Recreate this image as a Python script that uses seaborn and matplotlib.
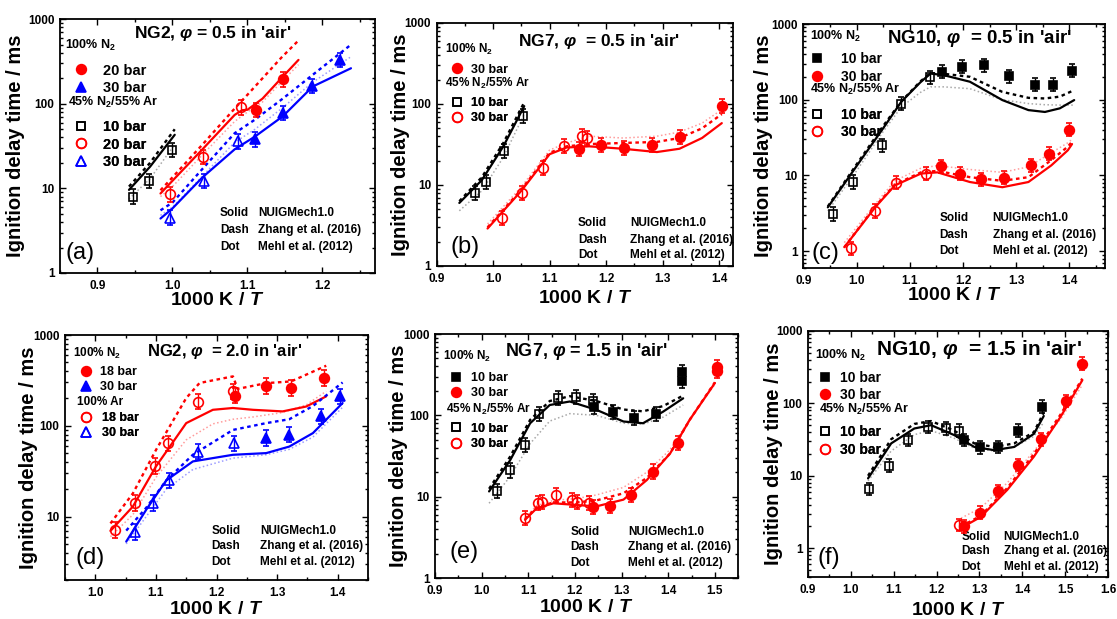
import numpy as np
import matplotlib
matplotlib.use("Agg")
import matplotlib.pyplot as plt
import seaborn as sns
from matplotlib.ticker import MultipleLocator, FixedLocator, FuncFormatter, LogLocator, NullFormatter, FormatStrFormatter
from matplotlib.lines import Line2D

# ---------------- DATA ----------------
# Panel (a) NG2, phi = 0.5
a_n2_20_x = [1.111, 1.147]
a_n2_20_y = [84, 195]
a_n2_30_x = [1.110, 1.147, 1.186, 1.223]
a_n2_30_y = [38, 78, 163, 330]
a_ar_10_x = [0.948, 0.969, 1.000]
a_ar_10_y = [8.0, 12.2, 28.3]
a_ar_20_x = [0.997, 1.041, 1.091]
a_ar_20_y = [8.5, 23.6, 91]
a_ar_30_x = [0.997, 1.042, 1.087]
a_ar_30_y = [4.5, 12.2, 36]
a_k_x = [0.942, 0.970, 1.003]
a_k_solid = [9.6, 18, 43]
a_k_dash = [10.5, 20, 50]
a_k_dot = [7.5, 13, 33]
a_r_x = [0.984, 1.000, 1.040, 1.083, 1.093, 1.100, 1.120, 1.145, 1.168]
a_r_solid = [8.7, 12.3, 29, 74, 84, 85, 115, 200, 330]
a_r_dash = [9.5, 13.5, 33, 88, 110, 128, 200, 350, 560]
a_r_dot = [8.0, 10.5, 25, 62, 72, 80, 105, 180, 290]
a_b_x = [0.984, 1.000, 1.040, 1.083, 1.110, 1.147, 1.187, 1.238]
a_b_solid = [4.4, 5.8, 13.5, 29, 41, 71, 160, 263]
a_b_dash = [5.5, 6.8, 17, 45, 65, 115, 220, 500]
a_b_dot = [4.8, 6.0, 14, 35, 50, 90, 180, 360]

# Panel (b) NG7, phi = 0.5
b_n2_30_x = [1.152, 1.191, 1.232, 1.281, 1.331, 1.406]
b_n2_30_y = [28, 31, 29, 31, 39, 94]
b_ar_10_x = [0.968, 0.987, 1.019, 1.053]
b_ar_10_y = [8.0, 10.9, 26, 72]
b_ar_30_x = [1.016, 1.051, 1.089, 1.125, 1.157, 1.167]
b_ar_30_y = [3.9, 8.0, 16.3, 30, 40, 38]
b_k_x = [0.940, 0.980, 1.018, 1.055]
b_k_solid = [6.0, 11.5, 30, 94]
b_k_dash = [6.3, 12.5, 33, 105]
b_k_dot = [4.8, 8.5, 22, 75]
b_r_x = [0.990, 1.050, 1.100, 1.130, 1.170, 1.230, 1.290, 1.330, 1.370, 1.405]
b_r_solid = [2.9, 8.5, 24, 29, 30, 28, 25.5, 28, 38, 58]
b_r_dash = [3.0, 8.8, 25, 30, 32, 33, 34, 38, 50, 75]
b_r_dot = [3.3, 9.5, 27, 33, 40, 38, 40, 45, 58, 85]

# Panel (c) NG10, phi = 0.5
c_n2_10_x = [1.161, 1.198, 1.240, 1.287, 1.336, 1.369, 1.405]
c_n2_10_y = [234, 272, 285, 205, 159, 159, 241]
c_n2_30_x = [1.158, 1.194, 1.234, 1.277, 1.328, 1.361, 1.400]
c_n2_30_y = [13.3, 10.6, 8.9, 9.4, 13.6, 19.4, 40]
c_ar_10_x = [0.955, 0.994, 1.048, 1.084, 1.138]
c_ar_10_y = [3.1, 8.2, 25, 89, 197]
c_ar_30_x = [0.990, 1.035, 1.075, 1.130]
c_ar_30_y = [1.1, 3.4, 8.0, 10.6]
c_k_x = [0.946, 1.000, 1.050, 1.084, 1.120, 1.139, 1.164, 1.213, 1.274, 1.323, 1.354, 1.382, 1.409]
c_k_solid = [3.8, 13.3, 42, 94, 170, 222, 211, 173, 99, 73, 69, 77, 99]
c_k_dash = [3.9, 14, 45, 95, 175, 225, 220, 201, 127, 106, 104, 110, 134]
c_k_dot = [3.4, 11.5, 38, 80, 125, 148, 148, 140, 100, 89, 86, 85, 85]
c_r_x = [0.977, 1.035, 1.072, 1.121, 1.152, 1.213, 1.274, 1.323, 1.366, 1.397, 1.405]
c_r_solid = [1.13, 3.8, 7.4, 10.6, 11, 8.2, 7.0, 8.2, 13.6, 21.5, 26]
c_r_dash = [1.13, 3.9, 7.6, 11, 11.5, 9.5, 8.5, 9.5, 16, 24, 28]
c_r_dot = [1.3, 4.2, 8.5, 12.5, 13.5, 12, 11, 13, 20, 27, 30]

# Panel (d) NG2, phi = 2.0
d_n2_18_x = [1.231, 1.282, 1.323, 1.378]
d_n2_18_y = [215, 276, 260, 336]
d_n2_30_x = [1.282, 1.320, 1.373, 1.403]
d_n2_30_y = [73, 80, 127, 211]
d_ar_18_x = [1.032, 1.065, 1.099, 1.120, 1.169, 1.227]
d_ar_18_y = [7.1, 14, 36, 64, 185, 239]
d_ar_30_x = [1.066, 1.096, 1.121, 1.170, 1.229]
d_ar_30_y = [6.8, 14, 25, 52, 64]
d_r_x = [1.025, 1.062, 1.100, 1.150, 1.194, 1.227, 1.260, 1.309, 1.348, 1.381]
d_r_solid = [6.95, 12.9, 35.6, 107, 150, 157, 150, 144, 163, 211]
d_r_dot = [6.0, 10.5, 27, 70, 105, 118, 125, 140, 170, 240]
d_r_dash_x = [1.025, 1.062, 1.100, 1.150, 1.172, 1.227, 1.235, 1.282, 1.323, 1.381]
d_r_dash = [8.4, 18, 54, 202, 296, 350, 255, 295, 308, 459]
d_b_x = [1.051, 1.084, 1.117, 1.161, 1.227, 1.282, 1.320, 1.359, 1.408]
d_b_solid = [5.3, 11.9, 25, 40.5, 47.9, 50, 59, 83, 178]
d_b_dash = [7.0, 12.5, 25, 48, 90, 107, 118, 165, 300]
d_b_dot = [5.0, 10, 20, 33, 44, 48, 55, 75, 160]

# Panel (e) NG7, phi = 1.5
e_n2_10_x = [1.241, 1.281, 1.327, 1.373, 1.429, 1.429]
e_n2_10_y = [128, 111, 92, 104, 265, 344]
e_n2_30_x = [1.238, 1.276, 1.321, 1.368, 1.421, 1.504, 1.504]
e_n2_30_y = [7.4, 7.7, 10.5, 20.4, 46, 355, 390]
e_ar_10_x = [1.032, 1.061, 1.094, 1.124, 1.164, 1.202, 1.239]
e_ar_10_y = [11.6, 21, 43, 104, 162, 170, 152]
e_ar_30_x = [1.093, 1.121, 1.129, 1.159, 1.193, 1.204, 1.230]
e_ar_30_y = [5.45, 8.3, 8.7, 10.5, 9.0, 8.7, 8.3]
e_k_x = [1.016, 1.061, 1.104, 1.146, 1.189, 1.246, 1.304, 1.346, 1.389, 1.432]
e_k_solid = [11.6, 28, 80, 134, 148, 117, 84, 80, 111, 162]
e_k_dash = [12.5, 31, 88, 150, 172, 150, 118, 112, 130, 175]
e_k_dot = [8.3, 17.7, 45, 85, 105, 100, 80, 78, 95, 134]
e_r_x = [1.093, 1.118, 1.154, 1.204, 1.246, 1.304, 1.354, 1.404, 1.446, 1.500]
e_r_solid = [5.2, 7.2, 8.3, 7.9, 7.6, 9.2, 16, 34, 88, 250]
e_r_dash = [5.3, 7.4, 8.5, 8.5, 9.0, 11, 17, 34, 88, 255]
e_r_dot = [5.5, 7.8, 9.0, 9.5, 10.5, 13, 20, 38, 90, 240]

# Panel (f) NG10, phi = 1.5
f_n2_10_x = [1.263, 1.302, 1.344, 1.391, 1.445]
f_n2_10_y = [31, 24.7, 25, 42, 90]
f_n2_30_x = [1.264, 1.302, 1.343, 1.390, 1.443, 1.501, 1.540]
f_n2_30_y = [2.0, 3.1, 6.2, 14.1, 31.8, 108, 355]
f_ar_10_x = [1.043, 1.088, 1.133, 1.179, 1.222, 1.253]
f_ar_10_y = [6.6, 13.8, 31, 47, 45, 42]
f_ar_30_x = [1.253]
f_ar_30_y = [2.1]
f_k_x = [1.040, 1.094, 1.148, 1.187, 1.241, 1.288, 1.334, 1.381, 1.427, 1.450]
f_k_solid = [9.2, 28, 45, 50, 36.5, 25, 22.6, 25, 38, 67]
f_k_dash = [10, 32, 52, 57, 42, 28, 25, 28, 40, 75]
f_k_dot = [8.5, 22, 37, 42, 33, 24, 22, 25, 35, 55]
f_r_x = [1.257, 1.303, 1.365, 1.427, 1.489, 1.540]
f_r_solid = [1.9, 2.7, 6.4, 18.4, 65, 209]
f_r_dash = [2.0, 2.8, 6.8, 20, 70, 220]
f_r_dot = [2.6, 3.6, 8, 22, 60, 180]

ERR = 0.22  # relative experimental uncertainty

TITLES = ["NG2, $\\varphi$ = 0.5 in 'air'", "NG7, $\\varphi$  = 0.5 in 'air'",
          "NG10, $\\varphi$  = 0.5 in 'air'", "NG2, $\\varphi$  = 2.0 in 'air'",
          "NG7, $\\varphi$ = 1.5 in 'air'", "NG10, $\\varphi$  = 1.5 in 'air'"]
MODELS = [("Solid", "NUIGMech1.0"), ("Dash", "Zhang et al. (2016)"), ("Dot", "Mehl et al. (2012)")]

# ---------------- STYLE ----------------
sns.set_theme(style="ticks", rc={"axes.edgecolor": "black", "text.color": "black",
                                 "xtick.color": "black", "ytick.color": "black",
                                 "axes.labelcolor": "black"})
plt.rcParams["font.family"] = ["Liberation Sans", "DejaVu Sans"]
plt.rcParams["font.weight"] = "bold"
plt.rcParams["mathtext.fontset"] = "custom"
plt.rcParams["mathtext.rm"] = "Liberation Sans:bold"
plt.rcParams["mathtext.it"] = "Liberation Sans:italic:bold"
plt.rcParams["mathtext.bf"] = "Liberation Sans:bold"

RED, BLUE, BLACK = "#ff0000", "#0000ff", "#000000"
PALE = {RED: "#ff9c9c", BLUE: "#9c9cff", BLACK: "#a8a8a8"}
DASH = (0, (1.5, 1.5))
DOT = (0, (1.0, 1.6))

fig = plt.figure(figsize=(11.17, 6.19), dpi=100)


def curves(ax, x, solid, dash, dot, color, dash_x=None):
    sns.lineplot(x=x, y=solid, ax=ax, color=color, lw=1.6, errorbar=None,
                 estimator=None, sort=False, zorder=3)
    sns.lineplot(x=dash_x if dash_x is not None else x, y=dash, ax=ax, color=color,
                 lw=1.7, linestyle=DASH, errorbar=None, estimator=None, sort=False, zorder=3)
    sns.lineplot(x=x, y=dot, ax=ax, color=PALE[color], lw=1.1, linestyle=DOT,
                 errorbar=None, estimator=None, sort=False, zorder=2)


def points(ax, x, y, marker, color, filled, ms):
    y = np.asarray(y, dtype=float)
    lo = y - y / (1 + ERR)
    hi = y * ERR
    ax.errorbar(x, y, yerr=[lo, hi], fmt=marker, color=color,
                mfc=color if filled else "none", mec=color, ms=ms, mew=1.2,
                elinewidth=1.0, capsize=2.2, capthick=1.0, zorder=5)


def key(ax, entries, x, y, pad, fs=9):
    handles = [Line2D([], [], ls="none", marker=m, color=c, mfc=c if f else "none",
                      mec=c, ms=s, mew=1.2) for (m, c, f, s, _) in entries]
    labels = [e[4] for e in entries]
    leg = ax.legend(handles, labels, loc="upper left", bbox_to_anchor=(x, y),
                    frameon=False, prop={"size": fs, "weight": "bold"},
                    handlelength=1.0, handletextpad=pad, borderpad=0,
                    borderaxespad=0, labelspacing=0.25)
    ax.add_artist(leg)


def setup(ax, xlim, ylim, title, tpos, tfs, label, lpos, mpos, ylab_x, xlab_y):
    ax.set_yscale("log")
    ax.set_xlim(*xlim)
    ax.set_ylim(*ylim)
    ax.xaxis.set_major_locator(MultipleLocator(0.1))
    ax.xaxis.set_minor_locator(MultipleLocator(0.05))
    ax.xaxis.set_major_formatter(FormatStrFormatter("%.1f"))
    ax.yaxis.set_major_locator(FixedLocator([1, 10, 100, 1000]))
    ax.yaxis.set_major_formatter(FuncFormatter(lambda v, p: f"{v:g}"))
    ax.yaxis.set_minor_locator(LogLocator(base=10, subs=np.arange(2, 10)))
    ax.yaxis.set_minor_formatter(NullFormatter())
    ax.tick_params(which="both", direction="in", top=True, right=True, width=1.0,
                   labelsize=8.5)
    ax.tick_params(axis="x", which="major", pad=5)
    ax.tick_params(axis="y", which="major", pad=4)
    ax.tick_params(which="major", length=4)
    ax.tick_params(which="minor", length=2.2)
    for sp in ax.spines.values():
        sp.set_linewidth(1.3)
    for t in ax.get_xticklabels() + ax.get_yticklabels():
        t.set_fontweight("bold")
    ax.set_xlabel("1000 K / $\\mathit{T}$", fontsize=14, fontweight="bold")
    ax.set_ylabel("Ignition delay time / ms", fontsize=14.5, fontweight="bold")
    ax.yaxis.set_label_coords(ylab_x, 0.5)
    ax.xaxis.set_label_coords(0.5, xlab_y)
    ax.text(tpos[0], tpos[1], title, transform=ax.transAxes, ha="center", va="center",
            fontsize=tfs, fontweight="bold")
    ax.text(lpos[0], lpos[1], label, transform=ax.transAxes, ha="left", va="center",
            fontsize=17, fontweight="normal")
    x1, x2, ys = mpos
    for (a, b), yy in zip(MODELS, ys):
        ax.text(x1, yy, a, transform=ax.transAxes, ha="left", va="center", fontsize=8.5)
        ax.text(x2, yy, b, transform=ax.transAxes, ha="left", va="center", fontsize=8.5)


def header(ax, x, y, s, fs=8.5):
    ax.text(x, y, s, transform=ax.transAxes, ha="left", va="center", fontsize=fs,
            fontweight="bold")


N2 = "100% N$_2$"
MIX = "45% N$_2$/55% Ar"

# ---------------- (a) ----------------
ax = fig.add_axes([0.0537, 0.559, 0.282, 0.410])
curves(ax, a_k_x, a_k_solid, a_k_dash, a_k_dot, BLACK)
curves(ax, a_r_x, a_r_solid, a_r_dash, a_r_dot, RED)
curves(ax, a_b_x, a_b_solid, a_b_dash, a_b_dot, BLUE)
points(ax, a_ar_10_x, a_ar_10_y, "s", BLACK, False, 6)
points(ax, a_ar_20_x, a_ar_20_y, "o", RED, False, 7)
points(ax, a_ar_30_x, a_ar_30_y, "^", BLUE, False, 7.5)
points(ax, a_n2_20_x, a_n2_20_y, "o", RED, True, 7)
points(ax, a_n2_30_x, a_n2_30_y, "^", BLUE, True, 7.5)
setup(ax, (0.85, 1.27), (1, 1000), TITLES[0], (0.483, 0.945), 12.5, "(a)", (0.016, 0.079),
      (0.508, 0.629, (0.236, 0.169, 0.102)), -0.111, -0.075)
header(ax, 0.016, 0.898, N2, 9)
key(ax, [("o", RED, True, 7, "20 bar"), ("^", BLUE, True, 7.5, "30 bar")], 0.043, 0.825, 1.0, 10.5)
header(ax, 0.026, 0.673, MIX, 9)
key(ax, [("s", BLACK, False, 6, "10 bar"), ("o", RED, False, 7, "20 bar"),
         ("^", BLUE, False, 7.5, "30 bar")], 0.043, 0.603, 1.0, 10.5)

# ---------------- (b) ----------------
ax = fig.add_axes([0.391, 0.5703, 0.2653, 0.3926])
curves(ax, b_k_x, b_k_solid, b_k_dash, b_k_dot, BLACK)
curves(ax, b_r_x, b_r_solid, b_r_dash, b_r_dot, RED)
points(ax, b_ar_10_x, b_ar_10_y, "s", BLACK, False, 6)
points(ax, b_ar_30_x, b_ar_30_y, "o", RED, False, 7)
points(ax, b_n2_30_x, b_n2_30_y, "o", RED, True, 7)
setup(ax, (0.9, 1.425), (1, 1000), TITLES[1], (0.549, 0.923), 12.5, "(b)", (0.045, 0.079),
      (0.477, 0.652, (0.176, 0.107, 0.045)), -0.09, -0.099)
header(ax, 0.028, 0.889, N2)
key(ax, [("o", RED, True, 7, "30 bar")], 0.048, 0.832, 0.6)
header(ax, 0.028, 0.752, MIX)
key(ax, [("s", BLACK, False, 6, "10 bar"), ("o", RED, False, 7, "30 bar")], 0.048, 0.694, 0.6)

# ---------------- (c) ----------------
ax = fig.add_axes([0.7192, 0.567, 0.2701, 0.3942])
curves(ax, c_k_x, c_k_solid, c_k_dash, c_k_dot, BLACK)
curves(ax, c_r_x, c_r_solid, c_r_dash, c_r_dot, RED)
points(ax, c_ar_10_x, c_ar_10_y, "s", BLACK, False, 6)
points(ax, c_ar_30_x, c_ar_30_y, "o", RED, False, 7)
points(ax, c_n2_10_x, c_n2_10_y, "s", BLACK, True, 6)
points(ax, c_n2_30_x, c_n2_30_y, "o", RED, True, 7)
setup(ax, (0.9, 1.467), (0.6, 1000), TITLES[2], (0.583, 0.941), 13.5, "(c)", (0.028, 0.06),
      (0.451, 0.627, (0.204, 0.135, 0.071)), -0.1, -0.078)
header(ax, 0.022, 0.949, N2, 9)
key(ax, [("s", BLACK, True, 6, "10 bar"), ("o", RED, True, 7, "30 bar")], 0.023, 0.885, 1.2, 10)
header(ax, 0.022, 0.732, MIX, 9)
key(ax, [("s", BLACK, False, 6, "10 bar"), ("o", RED, False, 7, "30 bar")], 0.023, 0.657, 1.2, 10)

# ---------------- (d) ----------------
ax = fig.add_axes([0.0582, 0.063, 0.2713, 0.3958])
curves(ax, d_r_x, d_r_solid, d_r_dash, d_r_dot, RED, dash_x=d_r_dash_x)
curves(ax, d_b_x, d_b_solid, d_b_dash, d_b_dot, BLUE)
points(ax, d_ar_18_x, d_ar_18_y, "o", RED, False, 7)
points(ax, d_ar_30_x, d_ar_30_y, "^", BLUE, False, 7.5)
points(ax, d_n2_18_x, d_n2_18_y, "o", RED, True, 7)
points(ax, d_n2_30_x, d_n2_30_y, "^", BLUE, True, 7.5)
setup(ax, (0.95, 1.45), (2, 1000), TITLES[3], (0.528, 0.932), 12, "(d)", (0.036, 0.089),
      (0.484, 0.644, (0.2, 0.139, 0.075)), -0.089, -0.084)
header(ax, 0.028, 0.925, N2)
key(ax, [("o", RED, True, 7, "18 bar"), ("^", BLUE, True, 7.5, "30 bar")], 0.048, 0.872, 0.65)
header(ax, 0.041, 0.728, "100% Ar")
key(ax, [("o", RED, False, 7, "18 bar"), ("^", BLUE, False, 7.5, "30 bar")], 0.048, 0.686, 0.8)

# ---------------- (e) ----------------
ax = fig.add_axes([0.3894, 0.0662, 0.2715, 0.3942])
curves(ax, e_k_x, e_k_solid, e_k_dash, e_k_dot, BLACK)
curves(ax, e_r_x, e_r_solid, e_r_dash, e_r_dot, RED)
points(ax, e_ar_10_x, e_ar_10_y, "s", BLACK, False, 6)
points(ax, e_ar_30_x, e_ar_30_y, "o", RED, False, 7)
points(ax, e_n2_10_x, e_n2_10_y, "s", BLACK, True, 6)
points(ax, e_n2_30_x, e_n2_30_y, "o", RED, True, 7)
setup(ax, (0.9, 1.55), (1, 1000), TITLES[4], (0.5, 0.927), 13, "(e)", (0.049, 0.108),
      (0.446, 0.638, (0.19, 0.126, 0.06)), -0.089, -0.086)
header(ax, 0.027, 0.907, N2)
key(ax, [("s", BLACK, True, 6, "10 bar"), ("o", RED, True, 7, "30 bar")], 0.048, 0.843, 0.75)
header(ax, 0.036, 0.691, MIX)
key(ax, [("s", BLACK, False, 6, "10 bar"), ("o", RED, False, 7, "30 bar")], 0.048, 0.636, 0.75)

# ---------------- (f) ----------------
ax = fig.add_axes([0.7234, 0.0679, 0.2686, 0.3974])
curves(ax, f_k_x, f_k_solid, f_k_dash, f_k_dot, BLACK)
curves(ax, f_r_x, f_r_solid, f_r_dash, f_r_dot, RED)
points(ax, f_ar_10_x, f_ar_10_y, "s", BLACK, False, 6)
points(ax, f_ar_30_x, f_ar_30_y, "o", RED, False, 7)
points(ax, f_n2_10_x, f_n2_10_y, "s", BLACK, True, 6)
points(ax, f_n2_30_x, f_n2_30_y, "o", RED, True, 7)
setup(ax, (0.9, 1.6), (0.4, 1000), TITLES[5], (0.57, 0.923), 15, "(f)", (0.031, 0.076),
      (0.511, 0.652, (0.164, 0.107, 0.039)), -0.083, -0.1)
header(ax, 0.024, 0.902, N2, 9)
key(ax, [("s", BLACK, True, 6, "10 bar"), ("o", RED, True, 7, "30 bar")], 0.034, 0.838, 0.6, 10)
header(ax, 0.035, 0.682, "45% N$_2$/55% Ar", 9)
key(ax, [("s", BLACK, False, 6, "10 bar"), ("o", RED, False, 7, "30 bar")], 0.034, 0.617, 0.6, 10)

fig.savefig("out.png", dpi=100)
